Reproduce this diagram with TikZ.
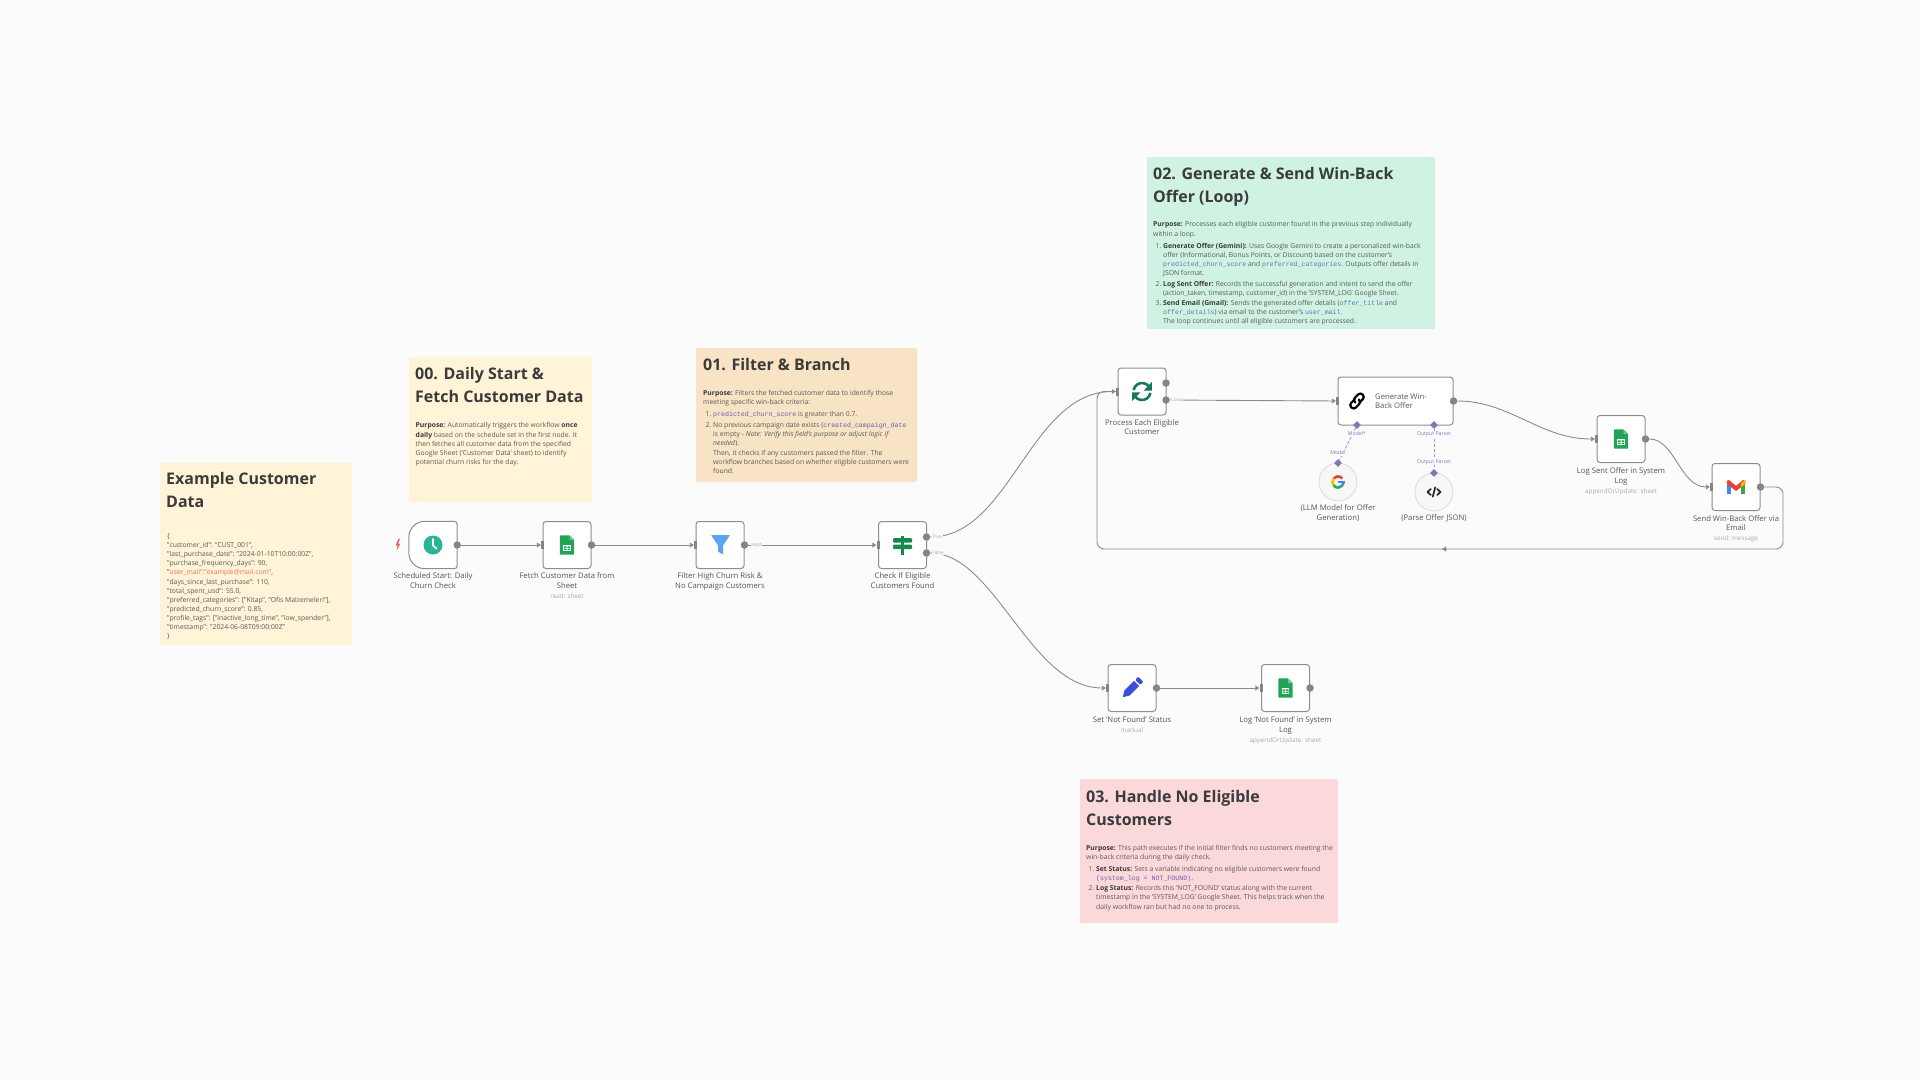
\documentclass[tikz,border=0pt]{standalone}
\usepackage{fontspec}
\setmainfont{Open Sans}
\setmonofont{Liberation Mono}
\usetikzlibrary{arrows.meta,shapes.geometric}
\definecolor{bgc}{HTML}{FBFBFB}
\definecolor{edgec}{HTML}{8C8C8C}
\definecolor{portc}{HTML}{858585}
\definecolor{framec}{HTML}{8E8E8E}
\definecolor{lilac}{HTML}{7D79B8}
\definecolor{bodyc}{HTML}{5A5A5A}
\definecolor{boldc}{HTML}{3A3A3A}
\definecolor{titlec}{HTML}{3B3B3B}
\definecolor{labelc}{HTML}{555555}
\definecolor{subc}{HTML}{A8A8A8}
\definecolor{yellowc}{HTML}{FFF3D8}
\definecolor{orangec}{HTML}{F8E3C5}
\definecolor{greenc}{HTML}{CFF2E2}
\definecolor{redc}{HTML}{FBD8DA}
\definecolor{codeA}{HTML}{6E5DB0}
\definecolor{codeB}{HTML}{5A78BC}
\definecolor{sheetc}{HTML}{21A455}
\definecolor{clockc}{HTML}{2AB596}
\definecolor{funnelc}{HTML}{5BA4EF}
\definecolor{switchc}{HTML}{138A4B}
\definecolor{loopc}{HTML}{17775C}
\definecolor{pencilc}{HTML}{3A4ED8}
\definecolor{gR}{HTML}{EA4335}
\definecolor{gB}{HTML}{4285F4}
\definecolor{gG}{HTML}{34A853}
\definecolor{gY}{HTML}{FBBC04}
\newcommand{\cod}[2]{{\fontsize{6.6}{9}\ttfamily\color{#1}#2}}
\newcommand{\bld}[1]{{\bfseries\color{boldc}#1}}
\newcommand{\itm}[1]{\makebox[7.5pt][l]{#1}}
\newcommand{\ind}{\hspace*{7.5pt}}
\newcommand{\subt}[1]{{\fontsize{6.3}{9.8}\selectfont\color{subc}#1}}
\tikzset{
  titletext/.style={anchor=north west,inner sep=0pt,align=left,text=titlec,font=\fontsize{16}{23}\selectfont\bfseries},
  bodytext/.style={anchor=north west,inner sep=0pt,align=left,text=bodyc,font=\fontsize{6.8}{9.1}\selectfont},
  wfnode/.style={draw=framec,line width=1pt,fill=white,rounded corners=3pt,inner sep=0pt,minimum width=48pt,minimum height=47pt},
  trigger/.style={inner sep=0pt,minimum width=48pt,minimum height=47pt},
  subnode/.style={circle,draw=black!12,line width=1pt,fill=black!3,minimum size=38pt,inner sep=0pt},
  nlabel/.style={anchor=north,inner sep=0pt,align=center,text=labelc,font=\fontsize{7.7}{9.8}\selectfont},
  outport/.style={circle,fill=portc,minimum size=7.5pt,inner sep=0pt},
  inport/.style={rectangle,fill=portc,minimum width=3pt,minimum height=8pt,inner sep=0pt},
  dia/.style={diamond,fill=lilac,minimum size=8pt,inner sep=0pt},
  edge/.style={draw=edgec,line width=0.9pt,-{Triangle[length=4pt,width=5pt]}},
  plainedge/.style={draw=edgec,line width=0.9pt},
  dashedge/.style={draw=lilac!75,line width=0.9pt,dash pattern=on 3pt off 2pt},
  elabel/.style={inner sep=0.5pt,text=subc,fill=bgc,font=\fontsize{4.8}{5}\selectfont},
  plabel/.style={inner sep=0.5pt,text=lilac,fill=bgc,font=\fontsize{5.2}{6}\selectfont},
  sheeticon/.pic={
    \fill[sheetc,rounded corners=0.8pt] (-7.2,-9.6) -- (2.6,-9.6) -- (7.2,-5) -- (7.2,9.6) -- (-7.2,9.6) -- cycle;
    \fill[sheetc!65!white] (2.6,-9.6) -- (7.2,-5) -- (2.6,-5) -- cycle;
    \fill[white] (-3.8,0.4) rectangle (3.8,6);
    \fill[sheetc] (-3,1.3) rectangle (-0.5,2.8) (0.5,1.3) rectangle (3,2.8) (-3,3.6) rectangle (-0.5,5.2) (0.5,3.6) rectangle (3,5.2);
  }
}
\begin{document}
\begin{tikzpicture}[x=1pt,y=-1pt]
\useasboundingbox (0,0) rectangle (1920,1080);
\fill[bgc] (0,0) rectangle (1920,1080);

% sticky notes
\fill[yellowc] (160,463) rectangle (352,645);
\fill[yellowc] (409,357) rectangle (592,502);
\fill[orangec,rounded corners=2pt] (696,348) rectangle (917,482);
\fill[greenc,rounded corners=2pt] (1147,157) rectangle (1435,329);
\fill[redc,rounded corners=2pt] (1080,779) rectangle (1338,923);

\node[titletext] (t0) at (166,472.5) {Example Customer\\Data};
\node[titletext] (t1) at (415,367.5) {00. Daily Start \&\\Fetch Customer Data};
\node[titletext] (t2) at (703,358.5) {01. Filter \& Branch};
\node[titletext] (t3) at (1153,167.5) {02. Generate \& Send Win-Back\\Offer (Loop)};
\node[titletext] (t4) at (1086,790.5) {03. Handle No Eligible\\Customers};

\node[bodytext] (b0) at (167,533.5) {\{\\
"customer\_id": "CUST\_001",\\
"last\_purchase\_date": "2024-01-10T10:00:00Z",\\
"purchase\_frequency\_days": 90,\\
"{\color{gR!75!white}user\_mail":"example@mail.com"},\\
"days\_since\_last\_purchase": 110,\\
"total\_spent\_usd": 55.0,\\
"preferred\_categories": ["Kitap", "Ofis Malzemeleri"],\\
"predicted\_churn\_score": 0.85,\\
"profile\_tags": ["inactive\_long\_time", "low\_spender"],\\
"timestamp": "2024-06-08T09:00:00Z"\\
\}};

\node[bodytext] (b1) at (415.5,422.5) {\bld{Purpose:} Automatically triggers the workflow \bld{once}\\
\bld{daily} based on the schedule set in the first node. It\\
then fetches all customer data from the specified\\
Google Sheet ('Customer Data' sheet) to identify\\
potential churn risks for the day.};

\node[bodytext] (b2) at (703,390) {\bld{Purpose:} Filters the fetched customer data to identify those\\
meeting specific win-back criteria:\\[3pt]
\hspace*{2.5pt}\itm{1.}\cod{codeA}{predicted\_churn\_score} is greater than 0.7.\\[2pt]
\hspace*{2.5pt}\itm{2.}No previous campaign date exists (\cod{codeA}{created\_campaign\_date}\\
\hspace*{2.5pt}\ind is empty - \emph{Note: Verify this field's purpose or adjust logic if}\\
\hspace*{2.5pt}\ind \emph{needed}).\\
\hspace*{2.5pt}\ind Then, it checks if any customers passed the filter. The\\
\hspace*{2.5pt}\ind workflow branches based on whether eligible customers were\\
\hspace*{2.5pt}\ind found.};

\node[bodytext] (b3) at (1153,221.5) {\bld{Purpose:} Processes each eligible customer found in the previous step individually\\
within a loop.\\[3pt]
\hspace*{2.5pt}\itm{1.}\bld{Generate Offer (Gemini):} Uses Google Gemini to create a personalized win-back\\
\hspace*{2.5pt}\ind offer (Informational, Bonus Points, or Discount) based on the customer's\\
\hspace*{2.5pt}\ind \cod{codeB}{predicted\_churn\_score} and \cod{codeB}{preferred\_categories}. Outputs offer details in\\
\hspace*{2.5pt}\ind JSON format.\\[1.5pt]
\hspace*{2.5pt}\itm{2.}\bld{Log Sent Offer:} Records the successful generation and intent to send the offer\\
\hspace*{2.5pt}\ind (action\_taken, timestamp, customer\_id) in the 'SYSTEM\_LOG' Google Sheet.\\[1pt]
\hspace*{2.5pt}\itm{3.}\bld{Send Email (Gmail):} Sends the generated offer details (\cod{codeB}{offer\_title} and\\
\hspace*{2.5pt}\ind \cod{codeB}{offer\_details}) via email to the customer's \cod{codeB}{user\_mail}.\\
\hspace*{2.5pt}\ind The loop continues until all eligible customers are processed.};

\node[bodytext] (b4) at (1086,845) {\bld{Purpose:} This path executes if the initial filter finds no customers meeting the\\
win-back criteria during the daily check.\\[3pt]
\hspace*{2.5pt}\itm{1.}\bld{Set Status:} Sets a variable indicating no eligible customers were found\\
\hspace*{2.5pt}\ind \cod{codeA}{(system\_log = NOT\_FOUND)}.\\[1pt]
\hspace*{2.5pt}\itm{2.}\bld{Log Status:} Records this 'NOT\_FOUND' status along with the current\\
\hspace*{2.5pt}\ind timestamp in the 'SYSTEM\_LOG' Google Sheet. This helps track when the\\
\hspace*{2.5pt}\ind daily workflow ran but had no one to process.};

% workflow nodes
\node[trigger] (sched) at (433,545) {};
\draw[draw=framec,line width=1pt,fill=white] (sched.east) [rounded corners=3pt] -- (sched.north east) [rounded corners=16pt] -- (sched.north west) -- (sched.south west) [rounded corners=3pt] -- (sched.south east) -- cycle;
\node[wfnode] (fetch) at (567,545) {};
\node[wfnode] (filter) at (720,545) {};
\node[wfnode] (check) at (902.5,545) {};
\node[wfnode] (proc) at (1142,391.5) {};
\node[wfnode,minimum width=115pt,minimum height=48pt] (gen) at (1395.5,401) {};
\node[wfnode] (logsent) at (1621,439) {};
\node[wfnode] (gmail) at (1736,487) {};
\node[wfnode] (setnf) at (1132,688) {};
\node[wfnode] (lognf) at (1285.5,688) {};
\node[subnode] (llm) at (1338,482) {};
\node[subnode] (parse) at (1434,492) {};

% node labels
\node[nlabel] (l1) at (433,572.5) {Scheduled Start: Daily\\Churn Check};
\node[nlabel] (l2) at (567,572.5) {Fetch Customer Data from\\Sheet\\\subt{read: sheet}};
\node[nlabel] (l3) at (720,572.5) {Filter High Churn Risk \&\\No Campaign Customers};
\node[nlabel] (l4) at (902.5,572.5) {Check If Eligible\\Customers Found};
\node[nlabel] (l5) at (1142,419) {Process Each Eligible\\Customer};
\node[nlabel] (l6) at (1338,504.5) {(LLM Model for Offer\\Generation)};
\node[nlabel] (l7) at (1434,514.5) {(Parse Offer JSON)};
\node[nlabel] (l8) at (1621,467.5) {Log Sent Offer in System\\Log\\\subt{appendOrUpdate: sheet}};
\node[nlabel] (l9) at (1736,515) {Send Win-Back Offer via\\Email\\\subt{send: message}};
\node[nlabel] (l10) at (1132,716.5) {Set 'Not Found' Status\\\subt{manual}};
\node[nlabel] (l11) at (1285.5,716.5) {Log 'Not Found' in System\\Log\\\subt{appendOrUpdate: sheet}};
\node[anchor=west,inner sep=0pt,align=left,text=labelc,font=\fontsize{7.7}{9.3}\selectfont] (gentext) at (1375,401.5) {Generate Win-\\Back Offer};

% ports
\node[outport] (schedO) at (sched.east) {};
\node[inport] (fetchI) at (fetch.west) {};
\node[outport] (fetchO) at (fetch.east) {};
\node[inport] (filterI) at (filter.west) {};
\node[outport] (filterO) at (filter.east) {};
\node[inport] (checkI) at (check.west) {};
\node[outport] (checkT) at (926.5,537) {};
\node[outport] (checkF) at (926.5,553) {};
\node[inport] (procI) at (proc.west) {};
\node[outport] (procA) at (1166,383) {};
\node[outport] (procB) at (1166,400) {};
\node[inport] (genI) at (gen.west) {};
\node[outport] (genO) at (gen.east) {};
\node[inport] (logsentI) at (logsent.west) {};
\node[outport] (logsentO) at (logsent.east) {};
\node[inport] (gmailI) at (gmail.west) {};
\node[outport] (gmailO) at (gmail.east) {};
\node[inport] (setnfI) at (setnf.west) {};
\node[outport] (setnfO) at (setnf.east) {};
\node[inport] (lognfI) at (lognf.west) {};
\node[outport] (lognfO) at (lognf.east) {};
\node[dia] (genM) at (1357,425) {};
\node[dia] (genP) at (1434,425) {};
\node[dia] (llmT) at (1338,463) {};
\node[dia] (parseT) at (1434,473) {};

\draw[edge] (schedO) -- (fetchI);
\draw[edge] (fetchO) -- (filterI);
\draw[edge] (filterO) -- (checkI);
\draw[edge] (checkT) .. controls (1010,537) and (1030,391.5) .. (procI);
\draw[edge] (checkF) .. controls (995,553) and (1030,688) .. (setnfI);
\draw[edge] (procB) -- (genI);
\draw[edge] (genO) .. controls (1510,401) and (1540,439) .. (logsentI);
\draw[edge] (logsentO) .. controls (1675,439) and (1680,487) .. (gmailI);
\draw[edge] (setnfO) -- (lognfI);
\coordinate (loopA) at (1783,549);
\coordinate (loopB) at (1097,549);
\coordinate (loopC) at (1097,391.5);
\draw[plainedge,rounded corners=7pt] (gmailO) -| (loopA) -- (loopB) -- (loopC) -- (procI);
\coordinate (loopM) at (1442,549);
\coordinate (loopN) at (1446,549);
\draw[-{Triangle[length=4pt,width=5pt]},draw=edgec,line width=0.9pt] (loopN) -- (loopM);
\draw[dashedge] (genM) -- (llmT);
\draw[dashedge] (genP) -- (parseT);

% edge labels
\node[elabel] (e1) at (756.5,545) {Kept};
\node[elabel] (e2) at (937,537) {True};
\node[elabel] (e3) at (938,553) {False};
\node[elabel] (e4) at (1177,400) {Loop};
\node[plabel] (p1) at (1357,434) {Model*};
\node[plabel] (p2) at (1338,453) {Model};
\node[plabel] (p3) at (1434,434) {Output Parser};
\node[plabel] (p4) at (1434,462) {Output Parser};

% lightning
\fill[gR!80!white] (398.5,538.5) -- (395.5,545.5) -- (397.5,545.5) -- (396.8,550.5) -- (400.5,543.5) -- (398.3,543.5) -- (400,538.5) -- cycle;

% clock
\fill[clockc] (433,545) circle (9.5);
\draw[white,line width=1.6pt,line cap=round,line join=round] (433,539) -- (433,545.5) -- (436.5,548.5);

% sheets
\pic at (567,545) {sheeticon};
\pic at (1621,439) {sheeticon};
\pic at (1285.5,688) {sheeticon};

% funnel
\fill[funnelc,rounded corners=0.5pt] (711,535) -- (730,535) -- (723,545.5) -- (723,554.5) -- (718,551.5) -- (718,545.5) -- cycle;

% switch sign
\fill[switchc] (901.3,536) rectangle (903.5,554.5);
\fill[switchc,rounded corners=1pt] (893,538) rectangle (912,542.5);
\fill[switchc,rounded corners=1pt] (893,544.5) rectangle (912,549);

% loop arrows
\begin{scope}[shift={(1142,391.5)}]
\draw[loopc,line width=2.6pt] (-8.4,-1.5) arc[start angle=190,end angle=320,radius=8.5];
\fill[loopc] (9.8,-9.5) -- (9.8,-0.8) -- (1.6,-0.8) -- cycle;
\draw[loopc,line width=2.6pt] (8.4,1.5) arc[start angle=10,end angle=140,radius=8.5];
\fill[loopc] (-9.8,9.5) -- (-9.8,0.8) -- (-1.6,0.8) -- cycle;
\end{scope}

% chain icon
\begin{scope}[shift={(1357,401)},rotate=45,line cap=round]
\draw[black,line width=2.2pt,rounded corners=3pt] (-0.5,-2.8) -- (-8.5,-2.8) -- (-8.5,3.8) -- (2.2,3.8) -- (2.2,0);
\draw[black,line width=2.2pt,rounded corners=3pt] (0.5,2.8) -- (8.5,2.8) -- (8.5,-3.8) -- (-2.2,-3.8) -- (-2.2,0);
\end{scope}

% google G
\begin{scope}[shift={(1338,482)}]
\draw[gR,line width=2.6pt] (-40:5.6) arc[start angle=-40,end angle=-140,radius=5.6];
\draw[gY,line width=2.6pt] (-140:5.6) arc[start angle=-140,end angle=-215,radius=5.6];
\draw[gG,line width=2.6pt] (-215:5.6) arc[start angle=-215,end angle=-320,radius=5.6];
\draw[gB,line width=2.6pt] (40:5.6) arc[start angle=40,end angle=0,radius=5.6];
\fill[gB] (0.2,-1.2) rectangle (7,1.4);
\end{scope}

% code icon
\begin{scope}[shift={(1434,492)},line cap=round,line join=round]
\draw[black!85,line width=1.7pt] (-3.2,-3) -- (-6.5,0) -- (-3.2,3);
\draw[black!85,line width=1.7pt] (3.2,-3) -- (6.5,0) -- (3.2,3);
\draw[black!85,line width=1.7pt] (1.2,-4.6) -- (-1.2,4.6);
\end{scope}

% pencil
\begin{scope}[shift={(1132,688)},rotate=45]
\fill[pencilc] (-7,-3.6) -- (6.5,-3.6) -- (6.5,3.6) -- (-7,3.6) -- (-13,0) -- cycle;
\fill[pencilc,rounded corners=1pt] (8,-3.6) rectangle (12.5,3.6);
\end{scope}

% gmail
\fill[gB] (1726.8,482) rectangle (1731,494);
\fill[gG] (1741,482) rectangle (1745.3,494);
\fill[gR] (1726.8,483.8) -- (1726.8,480.8) -- (1729,480) -- (1736,485.8) -- (1743,480) -- (1745.3,480.8) -- (1745.3,483.8) -- (1736,491) -- cycle;
\fill[gY] (1741,483) -- (1745.3,480) -- (1745.3,484) -- (1741,487) -- cycle;
\end{tikzpicture}
\end{document}
